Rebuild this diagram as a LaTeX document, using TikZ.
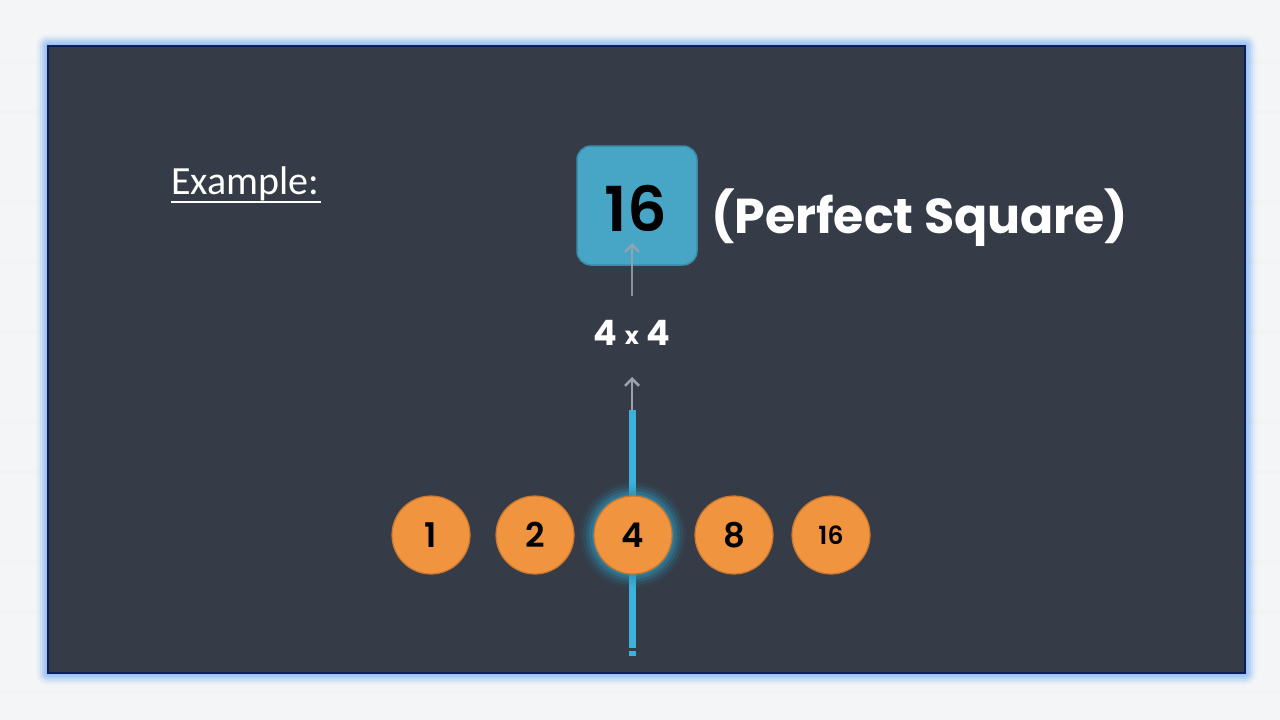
\documentclass[tikz,border=0pt]{standalone}
\usepackage{fontspec}
\setmainfont{Carlito}
\newfontfamily\popb[UprightFont=* Bold]{Poppins}
\newfontfamily\popm[UprightFont=* SemiBold]{Poppins}
\usetikzlibrary{arrows.meta}
\definecolor{pagebg}{HTML}{F4F5F6}
\definecolor{panel}{HTML}{353C47}
\definecolor{panelline}{HTML}{0C1F5C}
\definecolor{glowblue}{HTML}{9CC3F4}
\definecolor{boxfill}{HTML}{47A6C6}
\definecolor{boxline}{HTML}{3A8CAA}
\definecolor{ballfill}{HTML}{F0943F}
\definecolor{ballline}{HTML}{C9772E}
\definecolor{beam}{HTML}{3BB2DC}
\definecolor{arrowgray}{HTML}{9AA3AD}
\tikzset{
  ball/.style={circle, fill=ballfill, draw=ballline, line width=1.2pt, minimum size=78pt, inner sep=0pt, text=black, font=\popm\fontsize{34}{34}\selectfont},
  uparrow/.style={draw=arrowgray, line width=2.5pt, -{Straight Barb[length=7pt,width=14pt,line width=2.5pt]}},
}
\begin{document}
\begin{tikzpicture}[x=1pt,y=-1pt]
\useasboundingbox (0,0) rectangle (1280,720);
\fill[pagebg] (0,0) rectangle (1280,720);
% faint streaks
\foreach \yy in {60,110,200,260,330,420,470,560,610,690} {
  \fill[white!90!gray, opacity=0.5] (0,\yy) rectangle (1280,\yy+4);
}
% panel glow
\foreach \d/\o in {12/0.08,10/0.15,8/0.25,6/0.4,4/0.6,2/0.85} {
  \fill[glowblue, opacity=\o, rounded corners=\d pt] (48-\d,46-\d) rectangle (1245+\d,673+\d);
}
\fill[panel] (48,46) rectangle (1245,673);
\draw[panelline, line width=1.5pt] (48,46) rectangle (1245,673);

% Example
\node[anchor=base west, text=white, font=\fontsize{40}{40}\selectfont, inner sep=0pt] (ex) at (171,194) {Example:};
\draw[white, line width=2pt] (ex.base west) ++(0,8) -- ++(150,0);

% box 16
\node[draw=boxline, fill=boxfill, line width=1.5pt, rounded corners=14pt, minimum width=120pt, minimum height=119pt, inner sep=0pt] (sq) at (637,205.5) {};
\node[text=black, font=\popm\fontsize{62}{62}\selectfont, inner sep=0pt] (sqt) at (636,208) {16};
\node[text=white, font=\popb\fontsize{49}{49}\selectfont, inner sep=0pt, anchor=west] (ps) at (711,218) {(Perfect Square)};

% 4 x 4
\node[text=white, font=\popb\fontsize{35}{35}\selectfont, inner sep=0pt] (fx) at (632,333) {4 \raisebox{1pt}{\fontsize{24}{24}\selectfont x} 4};
\coordinate (a1s) at (632,296);
\coordinate (a1e) at (632,243);
\draw[uparrow, draw opacity=0.85] (a1s) -- (a1e);

% beam
\coordinate (a2s) at (632,410);
\coordinate (a2e) at (632,377);
\fill[beam] (629,410) rectangle (636,648);
\fill[beam] (629,651) rectangle (636,656);
\draw[uparrow] (a2s) -- (a2e);

% glow around 4
\foreach \r/\o in {53/0.08,50/0.14,47/0.22,44/0.35,41/0.55} {
  \fill[beam!80!black, opacity=\o] (633,535) circle (\r pt);
}

% balls
\node[ball] (b1) at (431,535) {1};
\node[ball] (b2) at (535,535) {2};
\node[ball] (b4) at (633,535) {4};
\node[ball] (b8) at (734,535) {8};
\node[ball, font=\popm\fontsize{25}{25}\selectfont] (b16) at (831,535) {16};
\end{tikzpicture}
\end{document}
